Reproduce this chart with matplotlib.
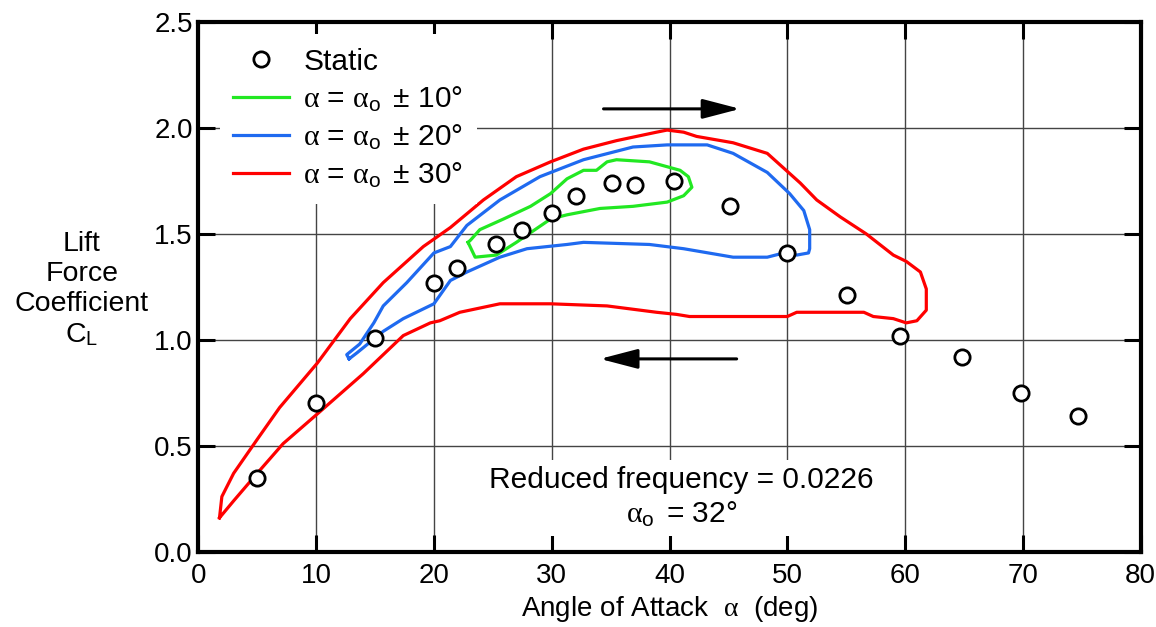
import matplotlib
matplotlib.use("Agg")
import matplotlib.pyplot as plt

plt.rcParams['font.family'] = ['Liberation Sans', 'DejaVu Sans']
plt.rcParams['mathtext.fontset'] = 'custom'
plt.rcParams['mathtext.rm'] = 'Liberation Sans'
plt.rcParams['mathtext.it'] = 'Liberation Serif'
plt.rcParams['mathtext.default'] = 'it'

# static data points
static_aoa = [5.0, 10.0, 15.0, 20.0, 22.0, 25.3, 27.5, 30.0, 32.1, 35.1, 37.1, 40.4,
              45.1, 50.0, 55.1, 59.6, 64.8, 69.8, 74.7]
static_cl = [0.35, 0.70, 1.01, 1.27, 1.34, 1.45, 1.52, 1.60, 1.68, 1.74, 1.73, 1.75,
             1.63, 1.41, 1.21, 1.02, 0.92, 0.75, 0.64]

# hysteresis loops (traced clockwise: upstroke on top, downstroke below)
green_aoa = [22.9, 23.1, 23.9, 25.9, 28.2, 29.9, 31.3, 32.7, 33.8, 34.7, 35.5, 38.3,
             40.9, 41.6, 41.9, 41.2, 39.8, 36.9, 34.1, 31.3, 29.9, 27.0, 25.3, 23.5, 22.9]
green_cl = [1.46, 1.47, 1.52, 1.57, 1.63, 1.69, 1.76, 1.80, 1.80, 1.84, 1.85, 1.84,
            1.80, 1.77, 1.72, 1.68, 1.65, 1.63, 1.62, 1.59, 1.57, 1.46, 1.40, 1.39, 1.46]

blue_aoa = [12.8, 12.6, 13.7, 14.9, 15.7, 17.7, 20.0, 21.4, 22.8, 25.6, 29.0, 32.7,
            36.9, 39.8, 43.2, 45.4, 48.3, 50.2, 51.4, 51.9, 51.9, 51.8, 50.8, 49.7,
            48.3, 45.4, 41.2, 38.3, 32.7, 31.3, 27.9, 25.6, 22.8, 21.4, 20.0, 17.4,
            15.7, 13.5, 12.8]
blue_cl = [0.91, 0.93, 0.98, 1.08, 1.16, 1.27, 1.41, 1.44, 1.54, 1.66, 1.77, 1.85,
           1.91, 1.92, 1.92, 1.88, 1.79, 1.69, 1.61, 1.52, 1.43, 1.41, 1.40, 1.41,
           1.39, 1.39, 1.43, 1.45, 1.46, 1.45, 1.43, 1.39, 1.32, 1.28, 1.17, 1.10,
           1.04, 0.94, 0.91]

red_aoa = [1.8, 2.0, 3.0, 5.0, 6.9, 10.1, 12.9, 15.7, 19.1, 21.4, 24.2, 27.0, 29.9,
           32.7, 35.5, 38.9, 39.8, 41.2, 42.3, 45.4, 48.3, 51.1, 52.5, 54.5, 56.7,
           59.0, 60.1, 61.3, 61.8, 61.8, 61.0, 60.1, 59.0, 57.3, 56.5, 50.8, 50.0,
           41.7, 40.6, 38.9, 34.7, 29.9, 25.6, 22.2, 20.5, 19.7, 17.4, 14.0, 10.1,
           7.2, 5.0, 3.0, 1.8]
red_cl = [0.16, 0.26, 0.37, 0.53, 0.68, 0.89, 1.10, 1.27, 1.44, 1.53, 1.66, 1.77, 1.84,
          1.90, 1.94, 1.98, 1.99, 1.98, 1.96, 1.93, 1.88, 1.74, 1.66, 1.58, 1.50,
          1.40, 1.37, 1.32, 1.24, 1.14, 1.09, 1.08, 1.10, 1.11, 1.13, 1.13, 1.11,
          1.11, 1.12, 1.13, 1.16, 1.17, 1.17, 1.13, 1.09, 1.08, 1.02, 0.84, 0.65,
          0.51, 0.37, 0.24, 0.16]

labels = ['Static',
          r'$\alpha$ = $\alpha_{\mathrm{o}}\,$ ± 10°',
          r'$\alpha$ = $\alpha_{\mathrm{o}}\,$ ± 20°',
          r'$\alpha$ = $\alpha_{\mathrm{o}}\,$ ± 30°']

fig = plt.figure(figsize=(11.56, 6.27), dpi=100)
ax = fig.add_axes([198.3 / 1156, 1 - 551.7 / 627, 942.4 / 1156, 529.7 / 627])

ax.plot(static_aoa, static_cl, 'o', ms=11, mfc='white', mec='black', mew=2.0,
        zorder=5, label=labels[0])
ax.plot(green_aoa, green_cl, color='#22e822', lw=2.3, label=labels[1], zorder=4)
ax.plot(blue_aoa, blue_cl, color='#1f6af0', lw=2.3, label=labels[2], zorder=4)
ax.plot(red_aoa, red_cl, color='#ff0000', lw=2.3, label=labels[3], zorder=4)

ax.set_xlim(0, 80)
ax.set_ylim(0, 2.5)
ax.set_xticks(range(0, 81, 10))
ax.set_yticks([0, 0.5, 1.0, 1.5, 2.0, 2.5])
ax.set_yticklabels(['0.0', '0.5', '1.0', '1.5', '2.0', '2.5'])
ax.tick_params(direction='in', length=12, width=2.2, top=True, right=True,
               labelsize=20)
ax.tick_params(axis='x', pad=8)
ax.tick_params(axis='y', pad=4)
for s in ax.spines.values():
    s.set_linewidth(3)
ax.grid(True, color='#444444', lw=1)

# arrows showing loop direction
ax.annotate('', xy=(46.0, 2.09), xytext=(34.4, 2.09),
            arrowprops=dict(arrowstyle='-|>,head_length=1.15,head_width=0.3',
                            mutation_scale=20, lw=2.2, color='black',
                            shrinkA=0, shrinkB=0))
ax.annotate('', xy=(34.1, 0.91), xytext=(45.7, 0.91),
            arrowprops=dict(arrowstyle='-|>,head_length=1.15,head_width=0.3',
                            mutation_scale=20, lw=2.2, color='black',
                            shrinkA=0, shrinkB=0))

ax.text(41.0, 0.255, 'Reduced frequency = 0.0226\n' + r'$\alpha_{\mathrm{o}}\,$ = 32°',
        ha='center', va='center', fontsize=21.5, linespacing=1.25,
        bbox=dict(facecolor='white', edgecolor='none', pad=5), zorder=3)

ax.set_xlabel(r'Angle of Attack  $\alpha$  (deg)', fontsize=20, labelpad=4)
ax.set_ylabel('Lift\nForce\nCoefficient\n' + r'C$_{\mathrm{L}}$', rotation=0,
              fontsize=20.5, ha='center', va='center', linespacing=1.2)
ax.yaxis.set_label_coords(-0.1234, 0.494)

leg = ax.legend(loc='upper left', bbox_to_anchor=(0.023, 0.977), borderaxespad=0,
                fontsize=21.5, frameon=True, fancybox=False, framealpha=1,
                facecolor='white', edgecolor='none', handlelength=1.875,
                handletextpad=0.47, labelspacing=0.3, borderpad=0.45)
leg.set_zorder(6)

fig.savefig('out.png', dpi=100)
